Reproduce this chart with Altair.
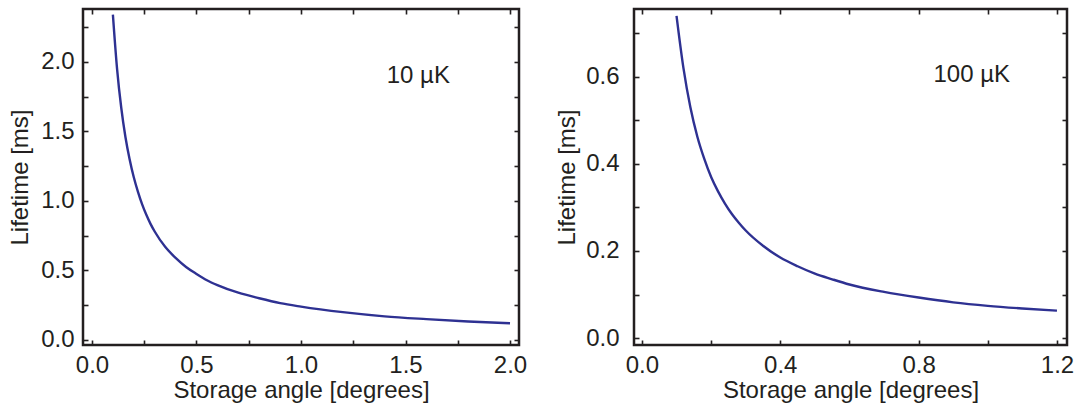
import altair as alt
import pandas as pd

# ---- data ----
left_x = [0.10, 0.12, 0.14, 0.16, 0.18, 0.20, 0.22, 0.24, 0.26, 0.28, 0.30, 0.35,
          0.40, 0.45, 0.50, 0.55, 0.60, 0.70, 0.80, 0.90, 1.00, 1.20, 1.40, 1.60,
          1.80, 2.00]
left_y = [2.34, 1.95, 1.67, 1.46, 1.30, 1.17, 1.065, 0.975, 0.90, 0.835, 0.78, 0.67,
          0.59, 0.525, 0.475, 0.43, 0.395, 0.34, 0.30, 0.265, 0.24, 0.20, 0.17, 0.15,
          0.133, 0.12]

right_x = [0.10, 0.12, 0.14, 0.16, 0.18, 0.20, 0.22, 0.24, 0.26, 0.28, 0.30, 0.35,
           0.40, 0.45, 0.50, 0.55, 0.60, 0.70, 0.80, 0.90, 1.00, 1.10, 1.20]
right_y = [0.740, 0.620, 0.530, 0.463, 0.412, 0.370, 0.337, 0.309, 0.285, 0.265, 0.247,
           0.212, 0.185, 0.165, 0.148, 0.135, 0.123, 0.106, 0.093, 0.082, 0.074, 0.068,
           0.063]

left_xlabels = [0.0, 0.5, 1.0, 1.5, 2.0]
left_ylabels = [0.0, 0.5, 1.0, 1.5, 2.0]
left_xticks = [0.0, 0.25, 0.5, 0.75, 1.0, 1.25, 1.5, 1.75, 2.0]
left_yticks = [0.0, 0.25, 0.5, 0.75, 1.0, 1.25, 1.5, 1.75, 2.0, 2.25]

right_xlabels = [0.0, 0.4, 0.8, 1.2]
right_ylabels = [0.0, 0.2, 0.4, 0.6]
right_xticks = [0.0, 0.2, 0.4, 0.6, 0.8, 1.0, 1.2]
right_yticks = [0.0, 0.1, 0.2, 0.3, 0.4, 0.5, 0.6, 0.7]

left_note = "10 µK"
right_note = "100 µK"

X_TITLE = "Storage angle [degrees]"
Y_TITLE = "Lifetime [ms]"

LINE_COLOR = "#2e3192"
INK = "#231f20"
FS = 24


def panel(xs, ys, xdom, ydom, xlabels, ylabels, xticks, yticks,
          note, note_x, note_y, w, h, ylabpad, ytitlepad):
    df = pd.DataFrame({"x": xs, "y": ys})
    base = alt.Chart(df)
    xs_ = alt.Scale(domain=xdom, nice=False, zero=False)
    ys_ = alt.Scale(domain=ydom, nice=False, zero=False)

    line = base.mark_line(color=LINE_COLOR, strokeWidth=2.4, interpolate="monotone").encode(
        x=alt.X("x:Q", scale=xs_, title=X_TITLE,
                axis=alt.Axis(orient="bottom", values=xlabels, format=".1f",
                              ticks=False, domain=False, grid=False,
                              labelPadding=8, titlePadding=1)),
        y=alt.Y("y:Q", scale=ys_, title=Y_TITLE,
                axis=alt.Axis(orient="left", values=ylabels, format=".1f",
                              ticks=False, domain=False, grid=False,
                              labelPadding=ylabpad, titlePadding=ytitlepad)),
    )

    def tick_layer(xo, yo):
        return base.mark_line(opacity=0).encode(
            x=alt.X("x:Q", scale=xs_, title=None,
                    axis=alt.Axis(orient=xo, values=xticks, labels=False,
                                  domain=False, grid=False, ticks=True,
                                  tickSize=5, offset=-5)),
            y=alt.Y("y:Q", scale=ys_, title=None,
                    axis=alt.Axis(orient=yo, values=yticks, labels=False,
                                  domain=False, grid=False, ticks=True,
                                  tickSize=5, offset=-5)),
        )

    text = alt.Chart(pd.DataFrame({"t": [note]})).mark_text(
        align="left", baseline="middle", fontSize=FS, color=INK
    ).encode(
        x=alt.XDatum(note_x, axis=None),
        y=alt.YDatum(note_y, axis=None),
        text="t:N",
    )

    return alt.layer(line, tick_layer("bottom", "left"), tick_layer("top", "right"), text).resolve_axis(
        x="independent", y="independent"
    ).properties(width=w, height=h)


left = panel(left_x, left_y, [-0.043, 2.043], [-0.036, 2.38],
             left_xlabels, left_ylabels, left_xticks, left_yticks,
             left_note, 1.41, 1.90, 436, 336, 9, 8)
right = panel(right_x, right_y, [-0.023, 1.229], [-0.016, 0.756],
              right_xlabels, right_ylabels, right_xticks, right_yticks,
              right_note, 0.843, 0.605, 433, 336, 15, 6)

chart = alt.hconcat(left, right, spacing=115, bounds="flush").properties(
    padding={"left": 7, "top": 6, "right": 5, "bottom": 5}
).configure(font="Liberation Sans").configure_view(
    stroke=INK, strokeWidth=2.5
).configure_axis(
    labelFont="Liberation Sans", titleFont="Liberation Sans",
    labelFontSize=FS, titleFontSize=FS, labelColor=INK, titleColor=INK,
    titleFontWeight="normal", tickColor=INK, tickWidth=1.6,
)

chart.save("out.html", embed_options={"renderer": "svg", "actions": False})
